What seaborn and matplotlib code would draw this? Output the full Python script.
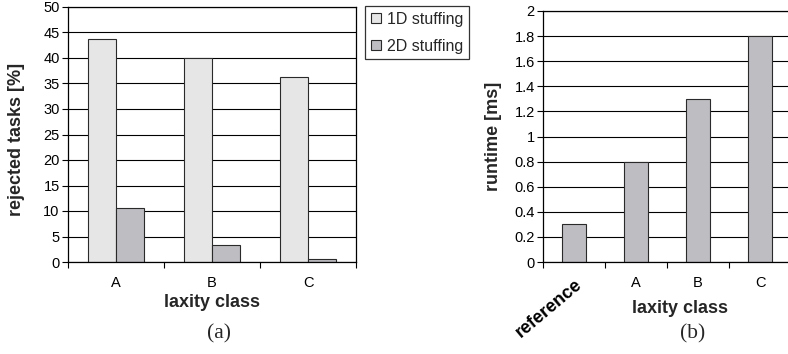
import matplotlib
matplotlib.use('Agg')
import matplotlib.pyplot as plt
import pandas as pd
import seaborn as sns

# (a) rejected tasks per laxity class
classes = ['A', 'B', 'C']
rejected_1d = [43.8, 40.0, 36.2]
rejected_2d = [10.6, 3.3, 0.5]
series_names = ['1D stuffing', '2D stuffing']

# (b) runtime per laxity class
runtime_labels = ['reference', 'A', 'B', 'C']
runtime_ms = [0.3, 0.8, 1.3, 1.8]

sns.set_theme(style='white')
plt.rcParams['font.family'] = ['Liberation Sans', 'DejaVu Sans']

df_a = pd.DataFrame({
    'laxity': classes * 2,
    'value': rejected_1d + rejected_2d,
    'method': [series_names[0]] * len(classes) + [series_names[1]] * len(classes),
})
df_b = pd.DataFrame({'laxity': runtime_labels, 'runtime': runtime_ms})

W, H = 788, 354
fig = plt.figure(figsize=(W / 100, H / 100), dpi=100)
ax1 = fig.add_axes([68 / W, 1 - 262 / H, 288 / W, 255 / H])
ax2 = fig.add_axes([543 / W, 1 - 262 / H, 248 / W, 251 / H])

light = '#e6e6e6'
dark = '#bdbdc2'
edge = '#2a2a2a'

# --- (a)
sns.barplot(data=df_a, x='laxity', y='value', hue='method',
            palette=[light, dark], width=0.58, saturation=1,
            edgecolor=edge, linewidth=0.8, ax=ax1)
ax1.set_ylim(0, 50)
ax1.set_yticks(range(0, 51, 5))
ax1.set_xlim(-0.5, len(classes) - 0.5)

# --- (b)
sns.barplot(data=df_b, x='laxity', y='runtime', color=dark, width=0.4,
            saturation=1, edgecolor=edge, linewidth=0.8, ax=ax2)
ax2.set_ylim(0, 2)
ax2.set_yticks([i / 5 for i in range(11)])
ax2.set_yticklabels(['%g' % (i / 5) for i in range(11)])
ax2.set_xlim(-0.5, len(runtime_labels) - 0.5)

for ax, n in [(ax1, len(classes)), (ax2, len(runtime_labels))]:
    ax.yaxis.grid(True, color='black', linewidth=0.8)
    ax.set_axisbelow(True)
    for s in ax.spines.values():
        s.set_color('black')
        s.set_linewidth(0.9)
    ax.set_xticks([i - 0.5 for i in range(n + 1)], minor=True)
    ax.tick_params(axis='x', which='major', length=0, pad=10, labelsize=10.5, colors='black')
    ax.tick_params(axis='x', which='minor', length=4, width=0.8, direction='out',
                   bottom=True, color='black')
    ax.tick_params(axis='y', length=4, width=0.8, direction='out', left=True,
                   labelsize=10.5, colors='black', pad=2)

ax1.set_ylabel('rejected tasks [%]', fontsize=13, fontweight='bold')
ax1.yaxis.set_label_coords((25 - 68) / 288, 0.48)
ax1.set_xlabel('laxity class', fontsize=13, fontweight='bold')
ax1.xaxis.set_label_coords(0.5, -(294 - 262) / 255)

ax2.set_ylabel('runtime [ms]', fontsize=13, fontweight='bold')
ax2.yaxis.set_label_coords((502 - 543) / 248, 0.5)
ax2.set_xlabel('laxity class', fontsize=13, fontweight='bold')
ax2.xaxis.set_label_coords((680 - 543) / 248, -(300 - 262) / 251)

# rotated 'reference' label
lab = ax2.get_xticklabels()
lab[0].set_rotation(40)
lab[0].set_ha('right')
lab[0].set_va('top')
lab[0].set_rotation_mode('anchor')
lab[0].set_fontweight('bold')
lab[0].set_fontsize(13)

leg = ax1.legend(loc='upper left', bbox_to_anchor=(365 / W, 1 - 6 / H),
                 bbox_transform=fig.transFigure, frameon=True, fancybox=False,
                 edgecolor='black', fontsize=11.5, handlelength=0.65,
                 handleheight=0.65, handletextpad=0.35, labelspacing=0.75,
                 borderpad=0.35, borderaxespad=0, title=None)
leg.get_frame().set_linewidth(0.9)

fig.text(219 / W, 1 - 334 / H, '(a)', ha='center', va='center',
         family='Liberation Serif', fontsize=15.5)
fig.text(693 / W, 1 - 334 / H, '(b)', ha='center', va='center',
         family='Liberation Serif', fontsize=15.5)

fig.savefig('out.png', dpi=100)
